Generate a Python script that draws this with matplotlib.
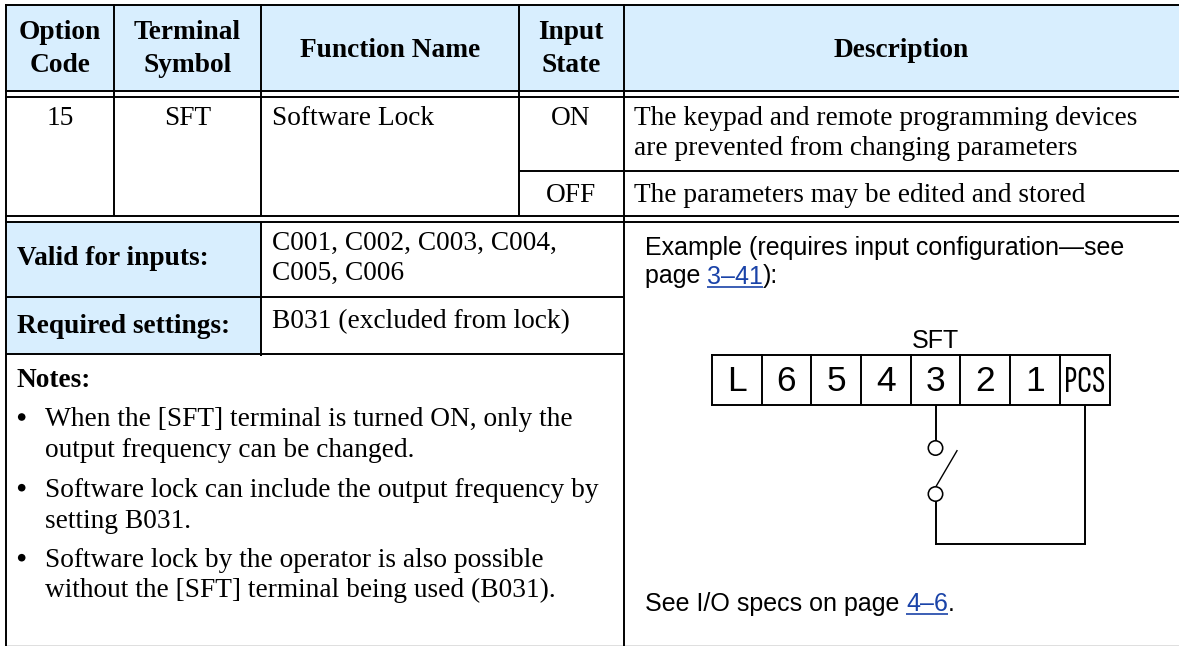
import matplotlib
matplotlib.use('Agg')
import matplotlib.pyplot as plt
from matplotlib.patches import Rectangle, Circle

SERIF = 'Liberation Serif'
SANS = 'Liberation Sans'
NARROW = ['Sofia Sans Extra Condensed', 'Liberation Sans']
FILL = '#d8eefe'
LINK = '#1a43a8'
SERIF_SIZE = 19.7
SANS_SIZE = 18.0

# table text
headers = [['Option', 'Code'], ['Terminal', 'Symbol'], ['Function Name'], ['Input', 'State']]
header_desc = 'Description'
option_code = '15'
terminal_symbol = 'SFT'
function_name = 'Software Lock'
states = ['ON', 'OFF']
desc_on = ['The keypad and remote programming devices', 'are prevented from changing parameters']
desc_off = 'The parameters may be edited and stored'
left_labels = ['Valid for inputs:', 'Required settings:']
valid_inputs = ['C001, C002, C003, C004,', 'C005, C006']
required = 'B031 (excluded from lock)'
notes_title = 'Notes:'
notes = [['When the [SFT] terminal is turned ON, only the', 'output frequency can be changed.'],
         ['Software lock can include the output frequency by', 'setting B031.'],
         ['Software lock by the operator is also possible', 'without the [SFT] terminal being used (B031).']]
terminals = ['L', '6', '5', '4', '3', '2', '1', 'PCS']
terminal_edges = [712, 762, 811, 861, 911, 960, 1010, 1060, 1110]

fig = plt.figure(figsize=(11.79, 6.46), dpi=100)
ax = fig.add_axes([0, 0, 1, 1])
ax.set_xlim(0, 1179)
ax.set_ylim(646, 0)
ax.axis('off')


def hline(y, x0, x1, lw=1.4):
    ax.plot([x0, x1], [y, y], color='black', lw=lw, solid_capstyle='butt', zorder=3)


def vline(x, y0, y1, lw=1.4):
    ax.plot([x, x], [y0, y1], color='black', lw=lw, solid_capstyle='butt', zorder=3)


def serif(x, y, s, ha='left', bold=False):
    ax.text(x, y, s, family=SERIF, fontsize=SERIF_SIZE, ha=ha, va='baseline',
            fontweight='bold' if bold else 'normal', color='black', zorder=4)


def sans(x, y, s, ha='left', color='black', size=None, family=SANS):
    return ax.text(x, y, s, family=family, fontsize=size or SANS_SIZE, ha=ha, va='baseline',
                   color=color, zorder=4)


def chained(x, y, parts):
    # normal text and link text one after the other, links get an underline
    r = fig.canvas.get_renderer()
    for s, is_link in parts:
        sans(x, y, s, color=LINK if is_link else 'black')
        # trailing spaces are not measured, so take the advance from a probe
        probe = sans(x, y, s + '.', color='none')
        dot = sans(x, y, '.', color='none')
        adv = probe.get_window_extent(r).width - dot.get_window_extent(r).width
        probe.remove()
        dot.remove()
        if is_link:
            ax.plot([x, x + adv], [y + 3, y + 3], color=LINK, lw=1.2, solid_capstyle='butt', zorder=4)
        x += adv


# shaded cells
ax.add_patch(Rectangle((6, 4), 1173, 86.5, fc=FILL, ec='none', zorder=1))
ax.add_patch(Rectangle((6, 222), 255, 132, fc=FILL, ec='none', zorder=1))

# horizontal rules
hline(4.5, 5, 1179)
hline(90.7, 5, 1179)
hline(97, 5, 1179)
hline(171, 519, 1179)
hline(215.7, 5, 1179)
hline(222, 5, 1179)
hline(297, 6, 623)
hline(354, 6, 623)
hline(645.5, 5, 1179, lw=0.9)

# vertical rules
vline(6, 4, 646)
vline(114, 4, 215.7)
vline(261, 4, 215.7)
vline(261, 222, 356)
vline(519, 4, 215.7)
vline(624, 4, 646)

# header row
centers = [60, 187.5, 390, 571]
for cx, lines in zip(centers, headers):
    ys = [39.3, 71.7] if len(lines) == 2 else [57]
    for y, s in zip(ys, lines):
        serif(cx, y, s, ha='center', bold=True)
serif(901, 57, header_desc, ha='center', bold=True)

# body row
serif(60, 125, option_code, ha='center')
serif(187.5, 125, terminal_symbol, ha='center')
serif(271.7, 125, function_name)
serif(571, 125, states[0], ha='center')
serif(571, 201.7, states[1], ha='center')
serif(634, 125, desc_on[0])
serif(634, 155, desc_on[1])
serif(634, 201.7, desc_off)

# left block
serif(16.7, 265, left_labels[0], bold=True)
serif(16.7, 332.7, left_labels[1], bold=True)
serif(271.7, 250, valid_inputs[0])
serif(271.7, 280, valid_inputs[1])
serif(271.7, 328, required)

# notes
serif(16.7, 386.7, notes_title, bold=True)
note_y = [[426, 457.3], [496.7, 528], [566.7, 597.3]]
for ys, lines in zip(note_y, notes):
    ax.add_patch(Circle((21.7, ys[0] - 9), 3.8, fc='black', ec='none', zorder=4))
    for y, s in zip(ys, lines):
        serif(45, y, s)

# example panel
fig.canvas.draw()
chained(645, 255, [('Example (requires input configuration—see', False)])
chained(645, 283.5, [('page ', False), ('3–41', True), ('):', False)])
chained(645, 610.7, [('See I/O specs on page ', False), ('4–6', True), ('.', False)])
sans(935.5, 348, 'SFT', ha='center')

# terminal strip
hline(355, 711, 1111)
hline(404.7, 711, 1111)
for x in terminal_edges:
    vline(x, 354.3, 405.4)
for i, name in enumerate(terminals):
    cx = (terminal_edges[i] + terminal_edges[i + 1]) / 2
    if name == 'PCS':
        sans(cx, 392, name, ha='center', size=27.5, family=NARROW)
    else:
        sans(cx, 391, name, ha='center', size=25.5)

# switch wiring
vline(936, 404.7, 441)
vline(936, 501, 544.5)
vline(1085, 404.7, 544.5)
hline(543.7, 934.5, 1085.7)
ax.plot([936, 957], [486.5, 450.7], color='black', lw=1.0, zorder=3)
for cy in [448, 494]:
    ax.add_patch(Circle((935.5, cy), 7.2, fc='white', ec='black', lw=1.15, zorder=4))

fig.savefig('out.png', dpi=100)
